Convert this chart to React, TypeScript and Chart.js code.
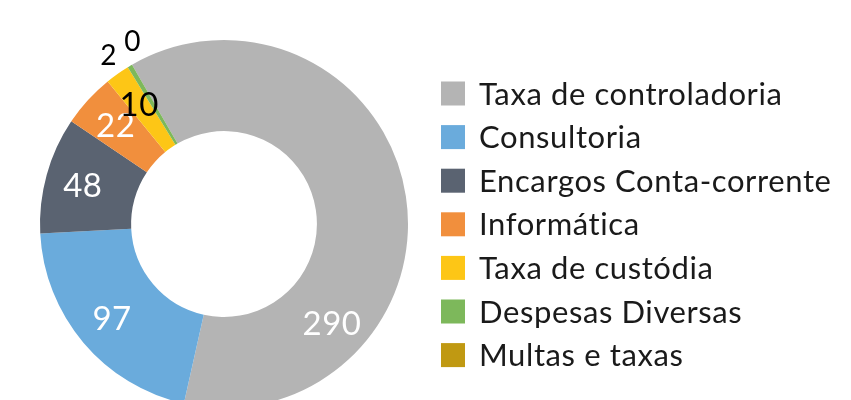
import React, { useEffect, useRef } from "react";
import { Chart, registerables } from "chart.js";

Chart.register(...registerables);

const categories = [
  "Taxa de controladoria",
  "Consultoria",
  "Encargos Conta-corrente",
  "Informática",
  "Taxa de custódia",
  "Despesas Diversas",
  "Multas e taxas",
];
const values = [290, 97, 48, 22, 10, 2, 0];
const sliceColors = ["#b4b4b4", "#6aabdc", "#5a6371", "#f18f3d", "#fdc616", "#7db85b", "#c09912"];
const labelColors = ["#ffffff", "#ffffff", "#ffffff", "#ffffff", "#000000", "#000000", "#000000"];

const FONT = "Lato, 'Noto Sans', sans-serif";

const valueLabelsPlugin = {
  id: "valueLabels",
  afterDatasetsDraw(chart: any, _args: any, opts: any) {
    const ctx = chart.ctx;
    const meta = chart.getDatasetMeta(0);
    const along: number[] = opts.along || [];
    const outside: { i: number; ang: number; text: string }[] = [];
    let cx = 0, cy = 0, outerR = 0;
    ctx.save();
    meta.data.forEach((arc: any, i: number) => {
      const p = arc.getProps(["startAngle", "endAngle", "innerRadius", "outerRadius", "x", "y"], true);
      cx = p.x; cy = p.y; outerR = p.outerRadius;
      const span = p.endAngle - p.startAngle;
      const text = String(values[i]);
      if (span < (5 * Math.PI) / 180) {
        outside.push({ i, ang: p.startAngle + span / 2, text });
        return;
      }
      const f = along[i] ?? 0.5;
      const ang = p.startAngle + span * f;
      const r = (p.innerRadius + p.outerRadius) / 2 + 8;
      const size = 33;
      ctx.font = `400 ${size}px ${FONT}`;
      (ctx as any).letterSpacing = "0.5px";
      ctx.fillStyle = labelColors[i];
      ctx.textAlign = "center";
      ctx.textBaseline = "alphabetic";
      ctx.fillText(text, cx + r * Math.cos(ang), cy + r * Math.sin(ang) + size * 0.36);
    });
    if (outside.length) {
      const size = 28;
      ctx.font = `400 ${size}px ${FONT}`;
      const r = outerR + 21;
      const gap = 11;
      const widths = outside.map((o) => ctx.measureText(o.text).width);
      const total = widths.reduce((a, b) => a + b, 0) + gap * (outside.length - 1);
      const mean = outside.reduce((a, o) => a + o.ang, 0) / outside.length;
      let pos = -total / 2;
      outside.forEach((o, k) => {
        const c = pos + widths[k] / 2;
        pos += widths[k] + gap;
        const ang = mean + c / r;
        ctx.fillStyle = labelColors[o.i];
        ctx.textAlign = "center";
        ctx.textBaseline = "alphabetic";
        ctx.fillText(o.text, cx + r * Math.cos(ang), cy + r * Math.sin(ang) + size * 0.36);
      });
    }
    ctx.restore();
  },
};

const sideLegendPlugin = {
  id: "sideLegend",
  afterDraw(chart: any, _args: any, opts: any) {
    const ctx = chart.ctx;
    const labels: string[] = chart.data.labels;
    const colors: string[] = chart.data.datasets[0].backgroundColor;
    const { x, y, step, box, textX, size } = opts;
    ctx.save();
    ctx.font = `400 ${size}px ${FONT}`;
    (ctx as any).letterSpacing = "0.6px";
    ctx.textAlign = "left";
    ctx.textBaseline = "alphabetic";
    labels.forEach((lab, i) => {
      const cyRow = y + i * step;
      ctx.fillStyle = colors[i];
      ctx.fillRect(x, cyRow - box / 2, box, box);
      ctx.fillStyle = "#1a1a1a";
      ctx.fillText(lab, textX, cyRow + size * 0.36);
    });
    ctx.restore();
  },
};

export default function App() {
  const ref = useRef<HTMLCanvasElement | null>(null);
  useEffect(() => {
    if (!ref.current) return;
    const chart = new Chart(ref.current, {
      type: "doughnut",
      data: {
        labels: categories,
        datasets: [
          {
            data: values,
            backgroundColor: sliceColors,
            borderWidth: 0,
            hoverOffset: 0,
          },
        ],
      },
      options: {
        responsive: false,
        animation: false,
        devicePixelRatio: 1,
        cutout: "50.5%",
        rotation: -30,
        layout: { padding: { left: 40, top: 40, right: 443, bottom: 12 } },
        plugins: {
          legend: { display: false },
          tooltip: { enabled: false },
          valueLabels: { along: [0.73, 0.5, 0.5, 0.5, 0.5, 0.5, 0.5] },
          sideLegend: { x: 441, y: 93.5, step: 43.6, box: 24, textX: 479, size: 31 },
        } as any,
      },
      plugins: [valueLabelsPlugin, sideLegendPlugin],
    });
    return () => chart.destroy();
  }, []);
  return (
    <div
      style={{
        position: "fixed",
        left: 0,
        top: 0,
        width: 851,
        height: 400,
        overflow: "hidden",
        background: "#ffffff",
      }}
    >
      <canvas ref={ref} width={851} height={420} style={{ display: "block", width: 851, height: 420 }} />
    </div>
  );
}
